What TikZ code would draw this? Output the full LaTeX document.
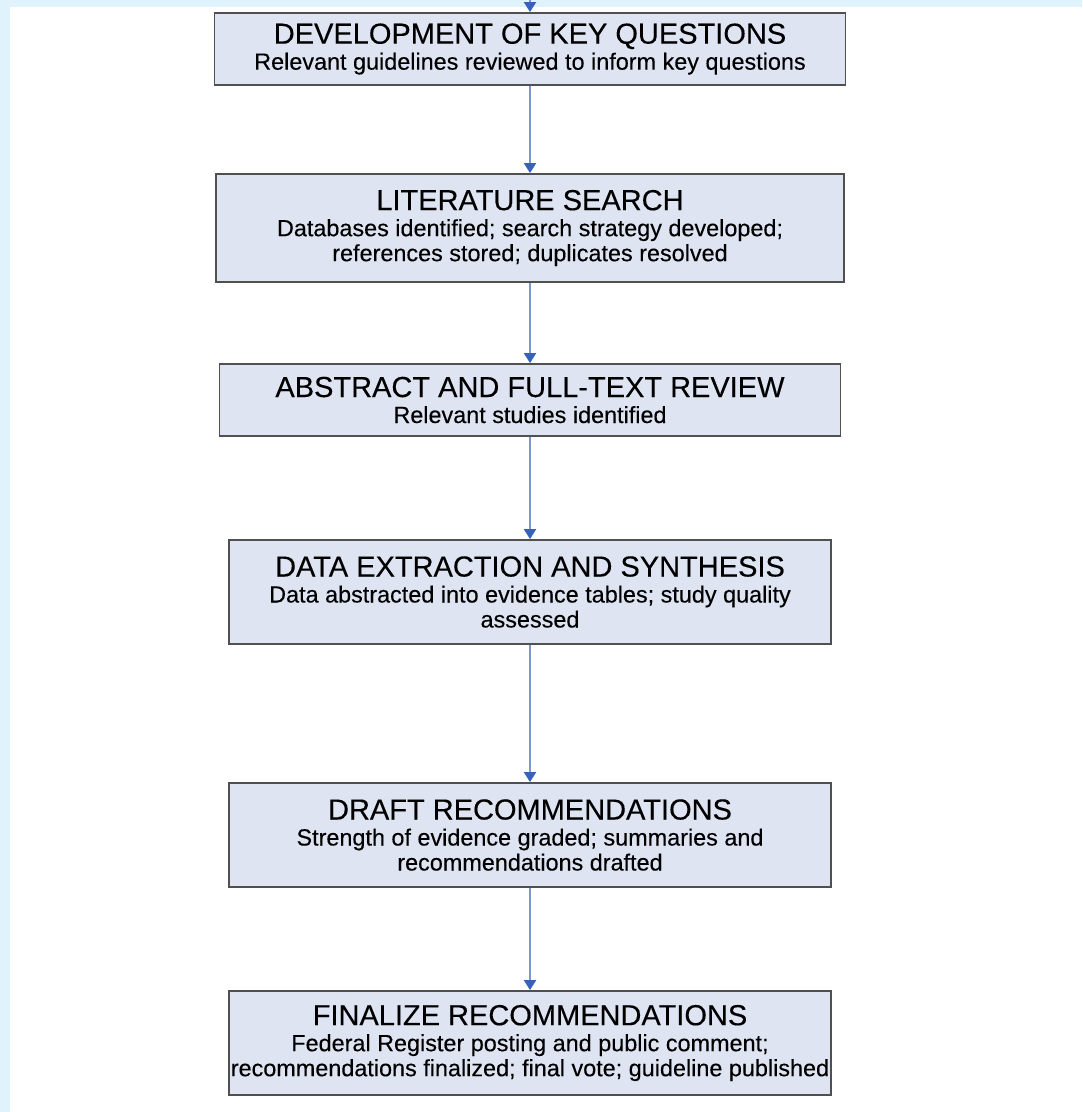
\documentclass[tikz,border=0pt]{standalone}
\usepackage{fontspec}
\setmainfont[FakeBold=0.25]{Liberation Sans}
\usetikzlibrary{arrows.meta}
\definecolor{boxfill}{RGB}{222,228,242}
\definecolor{boxline}{RGB}{80,80,80}
\definecolor{arrline}{RGB}{122,152,208}
\definecolor{arrhead}{RGB}{56,98,184}
\definecolor{bgblue}{RGB}{224,243,252}
\newcommand{\ttl}[1]{{\fontsize{14.5}{15}\selectfont #1}}

\begin{document}
\begin{tikzpicture}[x=0.5pt, y=-0.5pt,
    box/.style={draw=boxline, fill=boxfill, line width=0.9pt, inner sep=0pt,
      align=center, font=\fontsize{11.7}{12.5}\selectfont},
    flow/.style={draw=arrline, line width=1pt, -{Triangle[width=6pt, length=5pt, color=arrhead]}}]
        % background
        \fill[bgblue] (0,0) rectangle (1082,1112);
        \fill[white] (10,7) rectangle (1082,1112);
        \useasboundingbox (0,0) rectangle (1082,1112);

        \coordinate(top) at (530, 0);
        \node[box, minimum width=315.5pt, minimum height=36pt] (Q) at (530,  49)
            {\ttl{DEVELOPMENT OF KEY QUESTIONS}\\[0.5pt]
             Relevant guidelines reviewed to inform key questions};
        \node[box, minimum width=314pt, minimum height=54pt] (S) at (530, 228)
            {\ttl{LITERATURE SEARCH}\\[0.5pt]
             Databases identified; search strategy developed;\\
             references stored; duplicates resolved};
        \node[box, minimum width=310.5pt, minimum height=36pt] (R) at (530, 400)
            {\ttl{ABSTRACT AND FULL-TEXT REVIEW}\\[0.5pt]
             Relevant studies identified};
        \node[box, minimum width=301pt, minimum height=52pt] (E) at (530, 592)
            {\ttl{DATA EXTRACTION AND SYNTHESIS}\\[0.5pt]
             Data abstracted into evidence tables; study quality\\
             assessed};
        \node[box, minimum width=301pt, minimum height=52pt] (D) at (530, 835)
            {\ttl{DRAFT RECOMMENDATIONS}\\[0.5pt]
             Strength of evidence graded; summaries and\\
             recommendations drafted};
        \node[box, minimum width=301pt, minimum height=52pt] (F) at (530, 1043)
            {\ttl{FINALIZE RECOMMENDATIONS}\\[0.5pt]
             Federal Register posting and public comment;\\
             recommendations finalized; final vote; guideline published};

        \draw[flow] (top)     -- (Q.north);
        \draw[flow] (Q.south) -- (S.north);
        \draw[flow] (S.south) -- (R.north);
        \draw[flow] (R.south) -- (E.north);
        \draw[flow] (E.south) -- (D.north);
        \draw[flow] (D.south) -- (F.north);
      \end{tikzpicture}
\end{document}
